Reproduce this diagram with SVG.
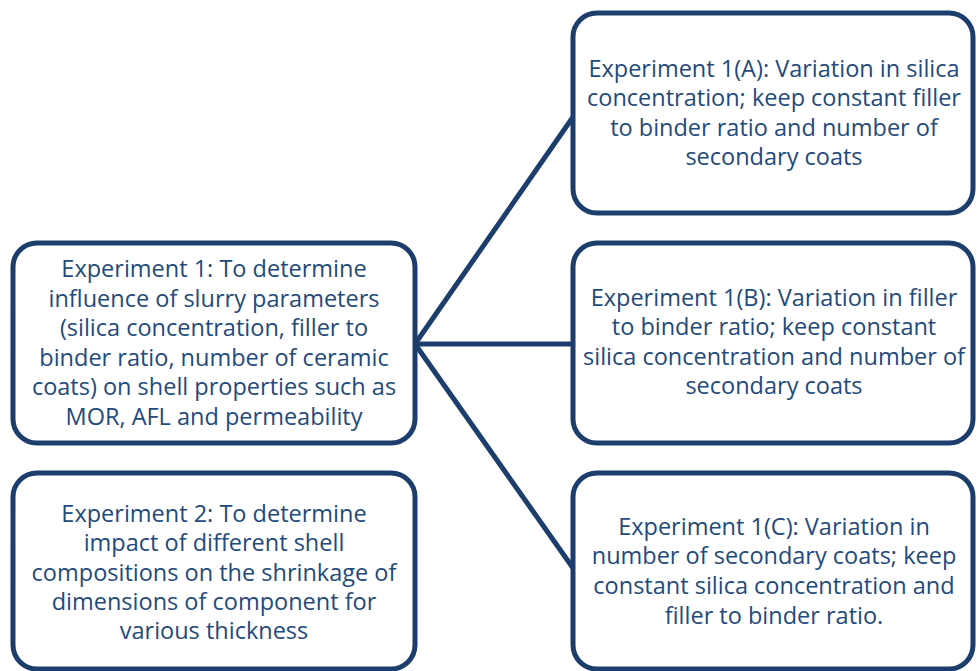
<svg xmlns="http://www.w3.org/2000/svg" width="978" height="671" viewBox="0 0 978 671">
<style>
.box{fill:#ffffff;stroke:#1d3e6c;stroke-width:5}
.conn{stroke:#1d3e6c;stroke-width:5;fill:none;stroke-linecap:round}
text{font-family:"Open Sans","Liberation Sans",sans-serif;font-size:23.5px;fill:#234a7c;text-anchor:middle}
</style>
<rect width="978" height="671" fill="#ffffff"/>
<g id="connectors">
<line class="conn" x1="415" y1="344" x2="573" y2="117"/>
<line class="conn" x1="415" y1="344" x2="573" y2="344"/>
<line class="conn" x1="415" y1="344" x2="573" y2="568"/>
</g>
<g id="exp1">
<rect class="box" x="13" y="243" width="402" height="200" rx="24"/>
<text x="214" y="277">Experiment 1: To determine</text>
<text x="214" y="307">influence of slurry parameters</text>
<text x="214" y="336">(silica concentration, filler to</text>
<text x="214" y="366">binder ratio, number of ceramic</text>
<text x="214" y="395">coats) on shell properties such as</text>
<text x="214" y="425">MOR, AFL and permeability</text>
</g>
<g id="exp2">
<rect class="box" x="13" y="473" width="402" height="196" rx="24"/>
<text x="214" y="522">Experiment 2: To determine</text>
<text x="214" y="551">impact of different shell</text>
<text x="214" y="581">compositions on the shrinkage of</text>
<text x="214" y="610">dimensions of component for</text>
<text x="214" y="639">various thickness</text>
</g>
<g id="exp1a">
<rect class="box" x="573" y="13" width="400" height="200" rx="24"/>
<text x="774" y="77">Experiment 1(A): Variation in silica</text>
<text x="774" y="106">concentration; keep constant filler</text>
<text x="774" y="136">to binder ratio and number of</text>
<text x="774" y="165">secondary coats</text>
</g>
<g id="exp1b">
<rect class="box" x="573" y="243" width="400" height="200" rx="24"/>
<text x="774" y="306">Experiment 1(B): Variation in filler</text>
<text x="774" y="335">to binder ratio; keep constant</text>
<text x="774" y="365">silica concentration and number of</text>
<text x="774" y="394">secondary coats</text>
</g>
<g id="exp1c">
<rect class="box" x="573" y="473" width="400" height="196" rx="24"/>
<text x="774" y="535">Experiment 1(C): Variation in</text>
<text x="774" y="564">number of secondary coats; keep</text>
<text x="774" y="594">constant silica concentration and</text>
<text x="774" y="624">filler to binder ratio.</text>
</g>
</svg>
